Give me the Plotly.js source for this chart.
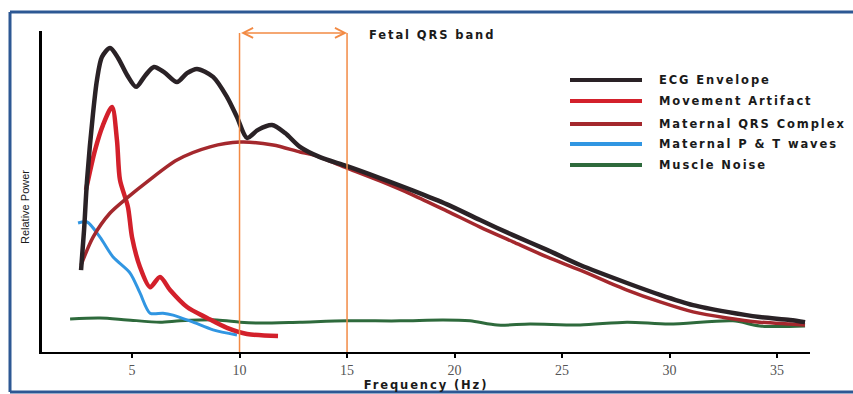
<!DOCTYPE html>
<html>
<head>
<meta charset="utf-8">
<script src="https://cdn.plot.ly/plotly-3.0.1.min.js"></script>
<style>
html,body{margin:0;padding:0;background:#fff;}
#chart{width:853px;height:394px;}
.annotation-text[data-unformatted^="<b>"], .xtitle {letter-spacing:1.9px;}
</style>
</head>
<body>
<div id="chart"></div>
<script>
// Frequency (Hz) / relative power (0-100)
const ecgFreq = [2.63,2.77,2.91,3.19,3.37,3.60,3.98,4.35,4.77,5.19,5.60,6.02,6.49,7.09,7.56,8.02,8.77,9.42,9.88,10.35,10.86,11.51,12.12,12.81,13.74,15.0,16.53,18.07,19.65,21.19,22.72,24.30,25.84,28.02,29.56,31.09,32.67,34.19,35.6,36.3];
const ecgPower = [25.5,38.0,53.6,74.5,84.7,91.9,94.7,91.6,86.3,82.6,86.0,88.8,87.2,84.1,86.9,88.2,85.7,79.4,73.2,66.7,69.2,70.7,68.2,63.9,60.7,57.9,54.2,50.3,46.0,41.1,36.4,31.8,27.1,21.5,17.8,14.6,12.5,10.9,10.0,9.3];

const moveFreq = [2.86,3.28,3.65,4.07,4.30,4.44,4.81,5.0,5.37,5.84,6.30,6.77,7.56,8.49,9.42,10.35,11.79];
const movePower = [50.5,62.9,70.7,76.3,66.0,53.6,45.2,35.8,26.5,20.2,23.4,19.3,14.0,10.6,7.5,5.6,5.0];

const qrsFreq = [2.63,3.19,3.98,4.77,5.70,7.09,8.63,10.02,11.56,12.81,13.42,15.0,16.53,18.07,19.65,21.19,22.72,24.30,25.84,28.02,29.56,31.09,32.67,34.19,35.6,36.3];
const qrsPower = [27.1,35.8,43.3,48.0,53.0,59.8,63.9,65.4,64.5,62.3,61.4,57.3,53.3,48.9,43.9,38.9,34.3,29.6,25.5,19.3,15.6,12.5,10.6,9.3,8.7,8.4];

const ptFreq = [2.49,2.91,3.51,4.12,4.91,5.37,5.84,6.44,6.91,7.84,8.77,9.88];
const ptPower = [40.2,40.5,35.8,29.6,24.6,18.4,12.1,12.1,11.5,9.3,6.9,5.3];

const muscleFreq = [2.12,3.51,4.77,6.30,7.23,8.95,10.02,10.95,12.81,15.0,17.47,19.47,20.72,21.98,23.51,25.84,28.02,29.98,32.95,34.19,36.3];
const musclePower = [10.3,10.6,10.0,9.3,9.7,10.0,9.3,9.0,9.3,9.7,9.7,10.0,9.7,8.4,8.7,8.4,9.3,8.7,9.7,8.1,8.1];

const seriesNames = ["ECG Envelope","Movement Artifact","Maternal QRS Complex","Maternal P & T waves","Muscle Noise"];
const seriesColors = ["#2a2226","#d3202b","#a4282d","#3196e2","#2e6a3c"];
const seriesWidths = [4.5,4.5,3.5,3,3];
const tickVals = [5,10,15,20,25,30,35];
const bandLow = 10, bandHigh = 15;
const bandLabel = "Fetal QRS band";

const xs = [ecgFreq, moveFreq, qrsFreq, ptFreq, muscleFreq];
const ys = [ecgPower, movePower, qrsPower, ptPower, musclePower];
const order = [4,3,1,2,0];
const traces = order.map(i => ({
  x: xs[i], y: ys[i], type: 'scatter', mode: 'lines', name: seriesNames[i],
  line: {color: seriesColors[i], width: seriesWidths[i], shape: 'spline', smoothing: 0.8},
  showlegend: false, hoverinfo: 'skip'
}));

// paper coordinate helpers (plot area 42..810 x 31..352 px)
const px = v => (v - 42) / 768;
const py = v => (352 - v) / 321;

const shapes = [
  {type:'line', xref:'paper', yref:'paper', x0:px(10), x1:px(10), y0:py(12), y1:py(392), line:{color:'#2d5894', width:3}},
  {type:'line', xref:'paper', yref:'paper', x0:px(10), x1:px(860), y0:py(12), y1:py(12), line:{color:'#2d5894', width:3}},
  {type:'line', xref:'paper', yref:'paper', x0:px(10), x1:px(860), y0:py(392), y1:py(392), line:{color:'#2d5894', width:3}},
  {type:'line', xref:'x', yref:'y', x0:bandLow, x1:bandLow, y0:0, y1:99.4, line:{color:'#f28a44', width:1.5}},
  {type:'line', xref:'x', yref:'y', x0:bandHigh, x1:bandHigh, y0:0, y1:99.4, line:{color:'#f28a44', width:1.5}}
];
const legendRows = [80,101,124,144,165];
const annotations = [
  {xref:'x', yref:'y', axref:'x', ayref:'y', x:bandHigh, y:99.4, ax:bandLow, ay:99.4, text:'', showarrow:true,
   arrowhead:5, startarrowhead:5, arrowside:'end+start', arrowsize:1.3, arrowwidth:1.5, arrowcolor:'#f28a44'},
  {xref:'paper', yref:'paper', x:px(367), y:py(35), xanchor:'left', yanchor:'middle', showarrow:false,
   text:'<b>'+bandLabel+'</b>', font:{family:'DejaVu Sans', size:11.5, color:'#1a1a1a'}},
  {xref:'paper', yref:'paper', x:px(25), y:py(207), xanchor:'center', yanchor:'middle', showarrow:false, textangle:-90,
   text:'Relative Power', font:{family:'Liberation Sans', size:11, color:'#1a1a1a'}}
];
seriesNames.forEach((n,i) => {
  shapes.push({type:'line', xref:'paper', yref:'paper', x0:px(570), x1:px(642), y0:py(legendRows[i]), y1:py(legendRows[i]),
    line:{color:seriesColors[i], width:4}});
  annotations.push({xref:'paper', yref:'paper', x:px(657), y:py(legendRows[i]), xanchor:'left', yanchor:'middle', showarrow:false,
    text:'<b>'+n+'</b>', font:{family:'DejaVu Sans', size:11.5, color:'#1a1a1a'}});
});

const layout = {
  width: 853, height: 394,
  margin: {l:42, r:43, t:31, b:42, pad:0},
  paper_bgcolor:'#ffffff', plot_bgcolor:'#ffffff',
  showlegend:false,
  xaxis: {
    range:[0.814, 36.53], showgrid:false, zeroline:false,
    showline:true, linecolor:'#000', linewidth:2,
    ticks:'outside', ticklen:4, tickwidth:2, tickcolor:'#000',
    tickvals: tickVals, ticktext: tickVals.map(String),
    tickfont:{family:'Liberation Serif', size:14, color:'#555'},
    title:{text:'<b>Frequency (Hz)</b>', font:{family:'DejaVu Sans', size:11.5, color:'#1a1a1a'}, standoff:2}
  },
  yaxis: {
    range:[0,100], showgrid:false, zeroline:false,
    showline:true, linecolor:'#000', linewidth:3,
    ticks:'', showticklabels:false
  },
  shapes: shapes, annotations: annotations
};
Plotly.newPlot('chart', traces, layout, {displayModeBar:false, staticPlot:true});
</script>
</body>
</html>
